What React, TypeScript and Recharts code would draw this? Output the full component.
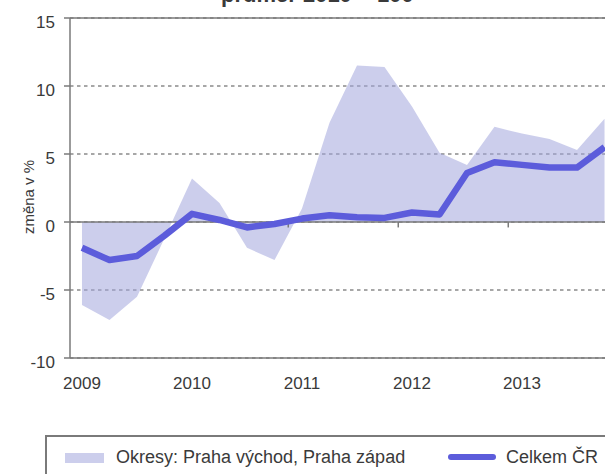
import {
  ComposedChart,
  Area,
  Line,
  XAxis,
  YAxis,
  CartesianGrid,
  ReferenceLine,
  Legend,
} from 'recharts';

// quarterly data, Q1 2009 .. Q4 2013
const quarters = [
  '2009 Q1', '2009 Q2', '2009 Q3', '2009 Q4',
  '2010 Q1', '2010 Q2', '2010 Q3', '2010 Q4',
  '2011 Q1', '2011 Q2', '2011 Q3', '2011 Q4',
  '2012 Q1', '2012 Q2', '2012 Q3', '2012 Q4',
  '2013 Q1', '2013 Q2', '2013 Q3', '2013 Q4',
];
const okresy = [
  -6.1, -7.2, -5.5, -1.2,
  3.2, 1.4, -1.9, -2.8,
  1.0, 7.3, 11.5, 11.4,
  8.5, 5.1, 4.2, 7.0,
  6.5, 6.1, 5.3, 7.6,
];
const celkem = [
  -1.9, -2.8, -2.5, -1.0,
  0.6, 0.15, -0.4, -0.15,
  0.25, 0.5, 0.35, 0.3,
  0.7, 0.55, 3.6, 4.4,
  4.2, 4.0, 4.0, 5.5,
];
const yearLabels = ['2009', '2010', '2011', '2012', '2013'];
const yearTicks = [0, 4, 8, 12, 16];
const yearBoundaries = [3.5, 7.5, 11.5, 15.5, 19.5];
const yTicks = [-10, -5, 0, 5, 10, 15];

const data = quarters.map((q, i) => ({
  i,
  q,
  okresy: okresy[i],
  celkem: celkem[i],
}));

const FONT = '"Liberation Sans", Arial, sans-serif';
const TEXT = '#3a3a3a';
const AXIS = '#7a7a7a';
const AREA_FILL = '#a2a5dc';
const LINE_COLOR = '#5c5cdb';

const XTick = ({ x, y, payload }: any) => (
  <text x={x} y={y} dy="0.71em" textAnchor="middle" fontSize={17} fill={TEXT} fontFamily={FONT}>
    {yearLabels[yearTicks.indexOf(payload.value)]}
  </text>
);

const YTick = ({ x, y, payload }: any) => (
  <text x={x} y={y + 4} dy="0.355em" textAnchor="end" fontSize={17} fill={TEXT} fontFamily={FONT}>
    {payload.value}
  </text>
);

const YLabel = () => (
  <text
    x={28}
    y={197}
    transform="rotate(-90 28 197)"
    textAnchor="middle"
    dominantBaseline="central"
    fontSize={15}
    fill={TEXT}
    fontFamily={FONT}
  >
    změna v %
  </text>
);

const LegendBox = () => (
  <div
    style={{
      position: 'relative',
      width: 600,
      height: 60,
      boxSizing: 'border-box',
      border: `2px solid ${AXIS}`,
      fontFamily: FONT,
      fontSize: 18,
      lineHeight: '20px',
      color: TEXT,
      background: '#fff',
    }}
  >
    <div style={{ position: 'absolute', left: 18, top: 16, width: 39, height: 10, background: AREA_FILL, opacity: 0.55 }} />
    <div style={{ position: 'absolute', left: 69, top: 10, whiteSpace: 'nowrap' }}>
      Okresy: Praha východ, Praha západ
    </div>
    <div style={{ position: 'absolute', left: 401, top: 17, width: 48, height: 6, background: LINE_COLOR, borderRadius: 3 }} />
    <div style={{ position: 'absolute', left: 459, top: 10, whiteSpace: 'nowrap' }}>Celkem ČR</div>
  </div>
);

export default function App() {
  return (
    <div
      style={{
        position: 'absolute',
        left: 0,
        top: 0,
        width: 605,
        height: 474,
        overflow: 'hidden',
        background: '#fff',
        fontFamily: FONT,
      }}
    >
      <ComposedChart width={640} height={474} data={data} margin={{ top: 18, right: 15, bottom: 86, left: 10 }}>
        <CartesianGrid
          vertical={false}
          stroke="#8a8a8a"
          strokeWidth={1.5}
          strokeDasharray="3.5 3.5"
        />
        <XAxis
          dataKey="i"
          type="number"
          domain={[-0.436, 19.745]}
          allowDataOverflow
          ticks={yearTicks}
          interval={0}
          tick={<XTick />}
          tickLine={false}
          tickSize={0}
          tickMargin={19}
          height={30}
          axisLine={{ stroke: AXIS, strokeWidth: 1.5 }}
        />
        <YAxis
          type="number"
          domain={[-10, 15]}
          ticks={yTicks}
          interval={0}
          width={60}
          tick={<YTick />}
          tickSize={6}
          tickMargin={9}
          tickLine={{ stroke: AXIS, strokeWidth: 1.5 }}
          axisLine={{ stroke: AXIS, strokeWidth: 1.5 }}
          label={<YLabel />}
        />
        <ReferenceLine y={15} stroke={AXIS} strokeWidth={1.5} />
        {yearBoundaries.map((b) => (
          <ReferenceLine
            key={b}
            segment={[{ x: b, y: 0 }, { x: b, y: -0.4 }]}
            stroke={AXIS}
            strokeWidth={1.5}
          />
        ))}
        <Area
          type="linear"
          dataKey="okresy"
          baseValue={0}
          stroke="none"
          fill={AREA_FILL}
          fillOpacity={0.55}
          dot={false}
          activeDot={false}
          isAnimationActive={false}
        />
        <ReferenceLine y={0} stroke={AXIS} strokeWidth={1.5} />
        <Line
          type="linear"
          dataKey="celkem"
          stroke={LINE_COLOR}
          strokeWidth={6.5}
          strokeLinejoin="round"
          dot={false}
          activeDot={false}
          isAnimationActive={false}
        />
        <Legend
          layout="vertical"
          align="center"
          verticalAlign="middle"
          wrapperStyle={{ left: 45, top: 435, width: 600 }}
          content={<LegendBox />}
        />
      </ComposedChart>
      <div
        style={{
          position: 'absolute',
          left: 221,
          top: -17,
          fontSize: 22,
          fontWeight: 'bold',
          lineHeight: '24px',
          whiteSpace: 'nowrap',
          color: TEXT,
        }}
      >
        průměr 2010 = 100
      </div>
    </div>
  );
}
